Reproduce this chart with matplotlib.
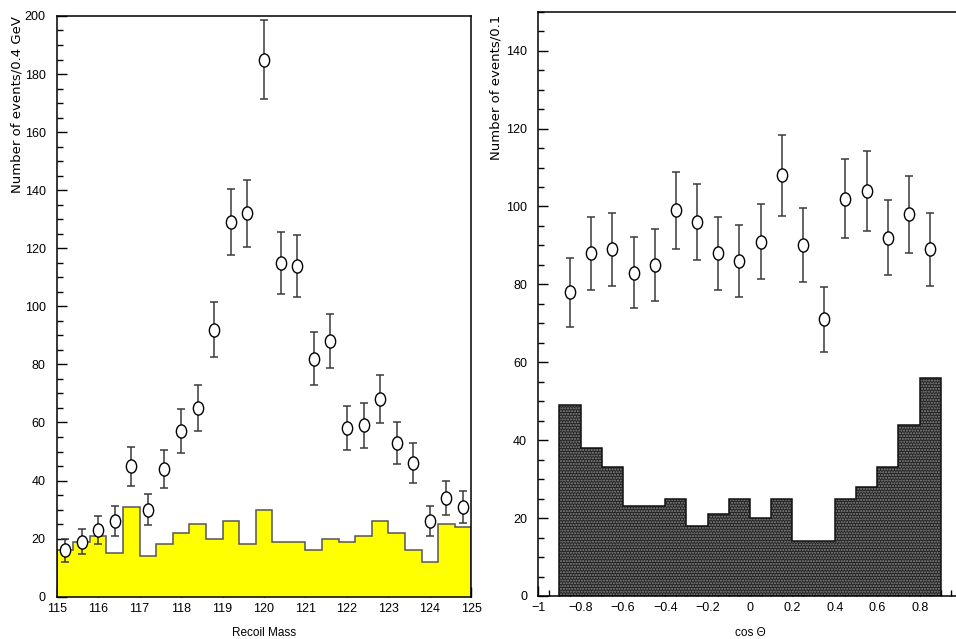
import numpy as np
import matplotlib
matplotlib.use('Agg')
import matplotlib.pyplot as plt
from matplotlib.path import Path
from matplotlib.transforms import Affine2D
from matplotlib.ticker import MultipleLocator

plt.rcParams['font.family'] = ['Liberation Sans', 'DejaVu Sans']
plt.rcParams['font.size'] = 9

# left: recoil mass, 0.4 GeV bins
mass_edges = np.linspace(115, 125, 26)
mass_bkg = [16, 19, 21, 15, 31, 14, 18, 22, 25, 20, 26, 18, 30,
            19, 19, 16, 20, 19, 21, 26, 22, 16, 12, 25, 24]
mass_data = [16, 19, 23, 26, 45, 30, 44, 57, 65, 92, 129, 132, 185,
             115, 114, 82, 88, 58, 59, 68, 53, 46, 26, 34, 31]

# right: cos theta, 0.1 bins
cos_edges = np.linspace(-0.9, 0.9, 19)
cos_bkg = [49, 38, 33, 23, 23, 25, 18, 21, 25, 20, 25, 14, 14, 25, 28, 33, 44, 56]
cos_data = [78, 88, 89, 83, 85, 99, 96, 88, 86, 91, 108, 90, 71, 102, 104, 92, 98, 89]

# tall open ellipse marker like the PAW plots
ell = Path.unit_circle().transformed(Affine2D().scale(0.78, 1.0))
ylab_font = dict(family=['DejaVu Sans'], size=9.5)


def centers(edges):
    return 0.5 * (edges[1:] + edges[:-1])


def style_axes(ax):
    ax.tick_params(which='both', direction='in', top=False, right=False)
    ax.tick_params(axis='x', pad=4.5)
    ax.tick_params(axis='y', pad=8)
    ax.tick_params(which='major', length=7, width=1)
    ax.tick_params(which='minor', length=4, width=1)
    for s in ax.spines.values():
        s.set_linewidth(1.1)
    ax.set_axisbelow(True)


fig = plt.figure(figsize=(9.56, 6.39), dpi=100)

ax1 = fig.add_axes([0.0593, 0.0662, 0.4337, 0.9088])
ax1.stairs(mass_bkg, mass_edges, fill=True, color='#ffff00', zorder=1)
ax1.stairs(mass_bkg, mass_edges, color='#555555', lw=1.1, zorder=1.1)
ax1.errorbar(centers(mass_edges), mass_data, yerr=np.sqrt(mass_data), fmt='none',
             ecolor='#3a3a3a', elinewidth=1.1, capsize=3, capthick=1.1, zorder=3)
ax1.plot(centers(mass_edges), mass_data, ls='none', marker=ell, ms=9.5,
         mfc='white', mec='black', mew=1.0, zorder=4)
ax1.set_xlim(115, 125)
ax1.set_ylim(0, 200)
ax1.xaxis.set_major_locator(MultipleLocator(1))
ax1.yaxis.set_major_locator(MultipleLocator(20))
ax1.yaxis.set_minor_locator(MultipleLocator(5))
style_axes(ax1)
ax1.set_xlabel('Recoil Mass', fontsize=8.5)
ax1.xaxis.set_label_coords(0.5, -0.052)
ax1.set_ylabel('Number of events/0.4 GeV', loc='top', fontdict=ylab_font)
ax1.yaxis.set_label_coords(-0.081, 1.0)

ax2 = fig.add_axes([0.5629, 0.0673, 0.4434, 0.9144])
ax2.stairs(cos_bkg, cos_edges, fill=True, facecolor='#222222', edgecolor='#8a8a8a',
           hatch='......', lw=0, zorder=1)
ax2.stairs(cos_bkg, cos_edges, color='#111111', lw=1.1, zorder=1.1)
ax2.errorbar(centers(cos_edges), cos_data, yerr=np.sqrt(cos_data), fmt='none',
             ecolor='#3a3a3a', elinewidth=1.1, capsize=3, capthick=1.1, zorder=3)
ax2.plot(centers(cos_edges), cos_data, ls='none', marker=ell, ms=9.5,
         mfc='white', mec='black', mew=1.0, zorder=4)
ax2.set_xlim(-1, 1)
ax2.set_ylim(0, 150)
ax2.xaxis.set_minor_locator(MultipleLocator(0.05))
ax2.yaxis.set_major_locator(MultipleLocator(20))
ax2.yaxis.set_minor_locator(MultipleLocator(5))
ax2.set_xticks(np.arange(-1, 0.81, 0.2))
ax2.set_xticklabels(['\u22121', '\u22120.8', '\u22120.6', '\u22120.4', '\u22120.2',
                     '0', '0.2', '0.4', '0.6', '0.8'])
style_axes(ax2)
ax2.set_xlabel('cos \u0398', fontsize=8.5)
ax2.xaxis.set_label_coords(0.5, -0.053)
ax2.set_ylabel('Number of events/0.1', loc='top', fontdict=ylab_font)
ax2.yaxis.set_label_coords(-0.083, 0.994)

fig.savefig('out.png', dpi=100)
